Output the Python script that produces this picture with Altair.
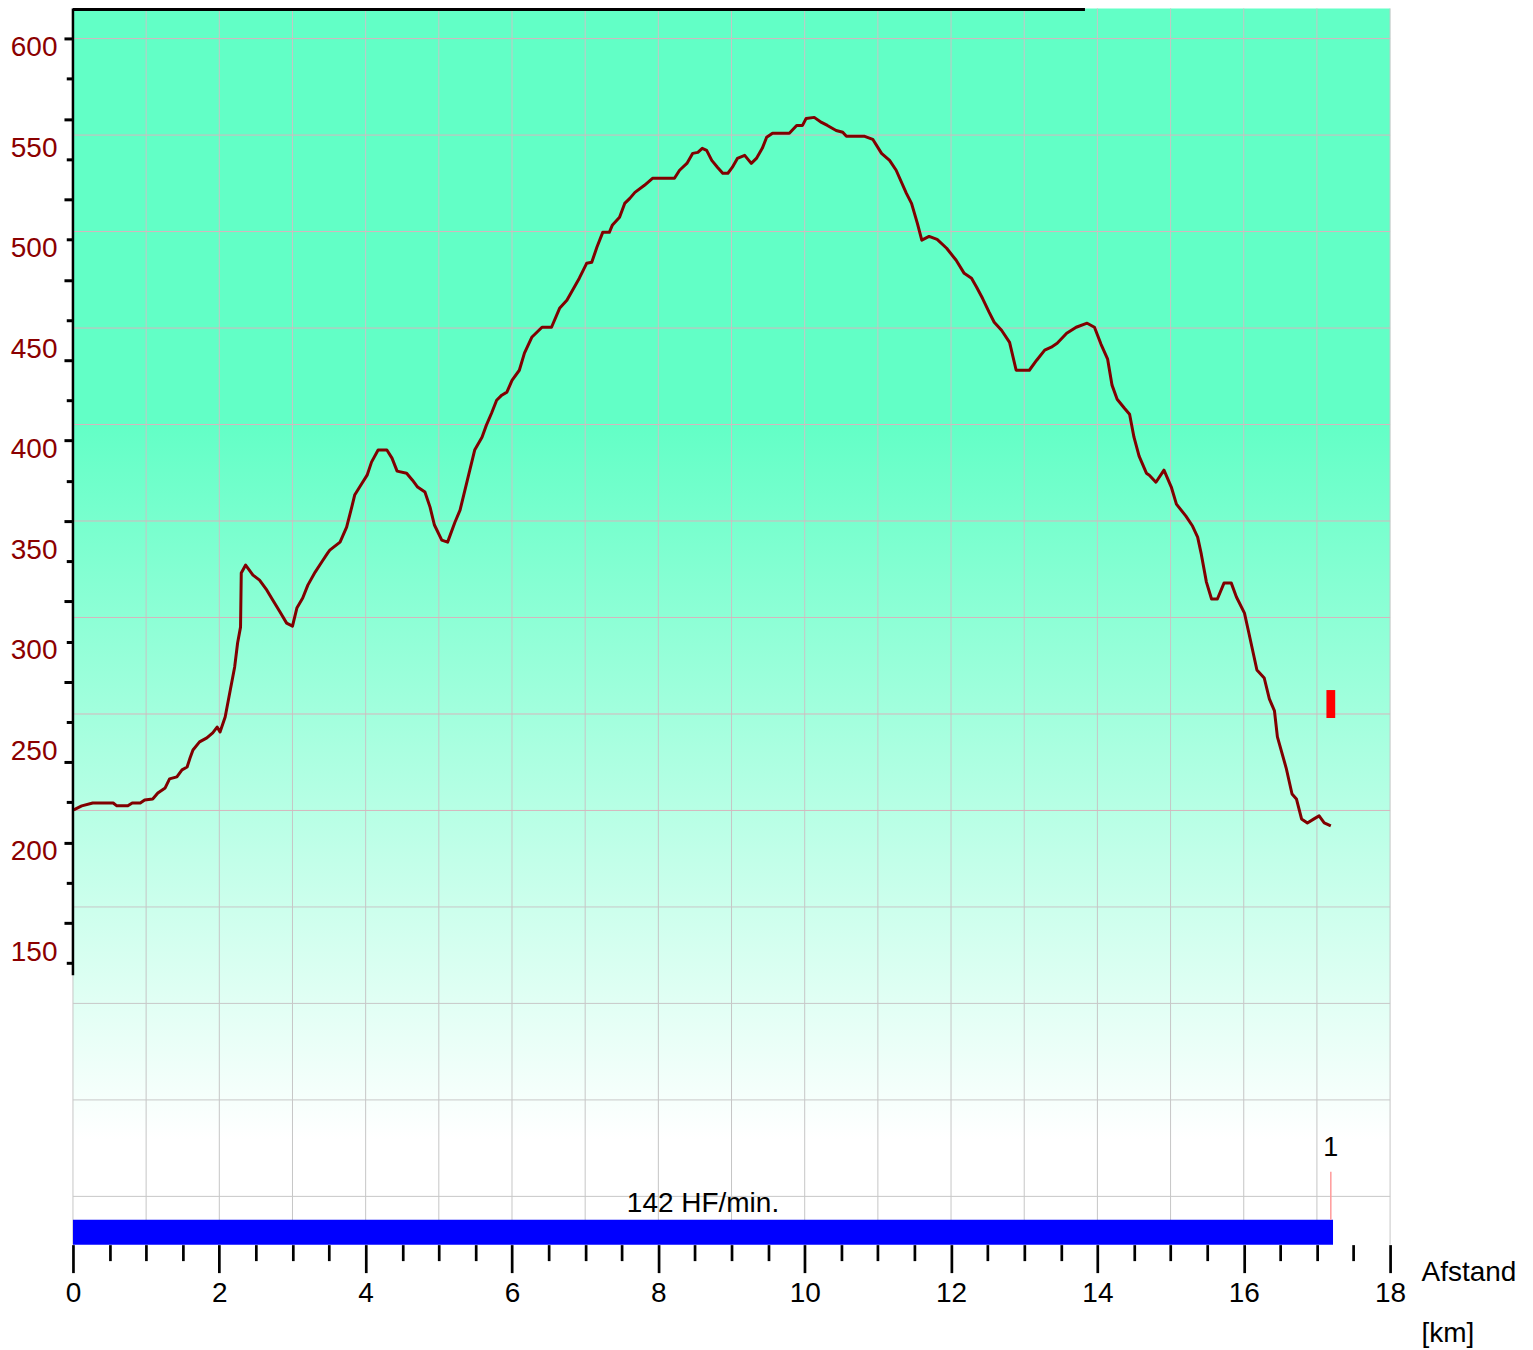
import altair as alt
import pandas as pd

# ---------------- data ----------------
dist_km = [0.01, 0.12, 0.27, 0.55, 0.60, 0.75, 0.81, 0.92, 0.98, 1.09, 1.16, 1.26, 1.32, 1.42, 1.49,
           1.56, 1.60, 1.64, 1.73, 1.83, 1.91, 1.97, 2.01, 2.08, 2.15, 2.21, 2.25, 2.29, 2.30, 2.36,
           2.46, 2.55, 2.65, 2.73, 2.83, 2.92, 3.00, 3.06, 3.14, 3.21, 3.31, 3.40, 3.48,
           3.51, 3.65, 3.74, 3.81, 3.85, 3.95, 4.02, 4.08, 4.17, 4.29, 4.36, 4.43, 4.56, 4.64, 4.71,
           4.81, 4.88, 4.94, 5.04, 5.12, 5.22, 5.29, 5.39, 5.49, 5.59, 5.65, 5.72, 5.79, 5.86, 5.93,
           6.00, 6.10, 6.17, 6.27, 6.41, 6.54, 6.65, 6.75,
           6.92, 7.02, 7.09, 7.16, 7.24, 7.33, 7.37, 7.47, 7.54, 7.61, 7.68, 7.81, 7.92, 8.22, 8.29,
           8.39, 8.47, 8.54, 8.60, 8.66, 8.73, 8.81, 8.88, 8.95, 9.01, 9.08, 9.18, 9.27, 9.34, 9.42,
           9.48, 9.56, 9.79, 9.89, 9.97, 10.02, 10.13, 10.23, 10.31, 10.43, 10.52, 10.57, 10.82,
           10.93, 11.05, 11.16, 11.25, 11.39, 11.46, 11.54, 11.60, 11.70, 11.81, 11.94, 12.07, 12.18,
           12.28, 12.35, 12.43, 12.52, 12.59, 12.69, 12.80, 12.89, 13.07, 13.17, 13.28, 13.37, 13.45,
           13.58, 13.71, 13.86, 13.96,
           14.05, 14.14, 14.20, 14.27, 14.37, 14.44, 14.50, 14.57, 14.67, 14.71, 14.80, 14.91, 15.01,
           15.08, 15.21, 15.30, 15.37, 15.42, 15.49, 15.56, 15.64, 15.73, 15.83, 15.90, 16.01, 16.07,
           16.18, 16.28, 16.35, 16.42, 16.46, 16.58, 16.66, 16.72, 16.79, 16.87, 16.96, 17.03, 17.10,
           17.19]
elev_m = [216.3, 218.3, 219.7, 219.7, 218.3, 218.3, 219.7, 219.7, 221.2, 221.7, 224.7, 227.2, 231.7,
          232.7, 236.2, 237.6, 242.1, 246.1, 250.1, 252.1, 254.6, 257.5, 255.0, 262.5, 275.9, 287.4,
          299.3, 307.2, 334.1, 338.1, 333.1, 330.6, 325.6, 320.7, 314.7, 309.2, 307.7, 316.7, 321.7,
          328.1, 334.6, 339.6, 344.0,
          345.5, 349.5, 357.0, 366.9, 372.9, 378.8, 382.8, 389.3, 395.3, 395.3, 391.3, 384.8, 383.8,
          380.3, 376.9, 374.4, 366.9, 358.0, 350.5, 349.5, 359.4, 365.4, 380.3, 395.3, 401.7, 407.7,
          413.6, 420.1, 422.6, 424.1, 430.0, 435.0, 443.5, 451.4, 456.4, 456.4, 465.8, 469.8,
          480.8, 488.2, 488.7, 496.2, 503.6, 503.6, 507.1, 511.1, 518.0, 520.5, 523.5, 527.0, 530.5,
          530.5, 534.5, 537.9, 542.9, 543.4, 545.4, 544.4, 539.4, 535.9, 533.0, 533.0, 535.9, 540.4,
          541.9, 537.9, 540.4, 545.4, 550.9, 552.9, 552.9, 556.8, 556.8, 560.3, 560.8, 558.3, 556.8,
          554.3, 553.4, 551.4, 551.4,
          549.9, 542.9, 539.4, 534.5, 523.0, 518.0, 508.1, 499.7, 501.6, 500.1, 495.7, 489.7, 483.2,
          480.8, 476.3, 470.8, 463.9, 458.9, 454.9, 448.9, 435.0, 435.0, 440.0, 445.0, 446.5, 448.4,
          453.4, 456.4, 458.4, 456.4,
          447.9, 440.5, 427.6, 420.6, 416.1, 413.1, 401.7, 392.3, 383.8, 382.8, 379.3, 385.3, 376.9,
          368.4, 362.4, 357.5, 352.0, 343.5, 329.6, 321.2, 321.2, 329.1, 329.1, 322.2, 314.2, 304.3,
          285.9, 281.9, 271.5, 265.5, 252.6, 237.1, 224.2, 221.7, 211.8, 209.8, 211.8, 213.3, 209.8,
          208.3]

x_domain = [0, 18]
y_domain = [0, 615]

x_label_ticks = [0, 2, 4, 6, 8, 10, 12, 14, 16, 18]
x_minor_ticks = [0.5, 1, 1.5, 2.5, 3, 3.5, 4.5, 5, 5.5, 6.5, 7, 7.5, 8.5, 9, 9.5, 10.5, 11, 11.5,
                 12.5, 13, 13.5, 14.5, 15, 15.5, 16.5, 17, 17.5]
y_long_ticks = [600, 560, 520, 480, 440, 400, 360, 320, 280, 240, 200, 160]
y_short_ticks = [580, 540, 500, 460, 420, 380, 340, 300, 260, 220, 180, 140]
y_labels = [600, 550, 500, 450, 400, 350, 300, 250, 200, 150]
y_axis_extent = [134, 615]

grid_km = list(range(0, 19))
grid_pink_m = [216, 264, 312, 360, 408, 456, 504, 552, 600]
grid_gray_m = [24, 72, 120, 168]

hr_text = ["142 HF/min."]
hr_bar_km = [0, 17.22]
hr_bar_m = [0, 12.4]
hr_text_pos = [8.61, 16.4]

lap_km = [17.19]
lap_line_m = [12.4, 36.3]
lap_label = ["1"]
lap_label_m = [44.3]

marker_km = [17.13, 17.25]
marker_m = [262.0, 275.9]

progress_km = [0, 13.83]

FONT = "Liberation Sans"

xs = alt.Scale(domain=x_domain, nice=False, zero=False)
ys = alt.Scale(domain=y_domain, nice=False, zero=False)

ax_x_major = alt.Axis(orient="bottom", values=x_label_ticks, tickSize=28, tickWidth=2.7,
                      tickColor="black", domain=False, grid=False, labelFontSize=28,
                      labelFont=FONT, labelColor="black", labelPadding=7, labelFlush=False,
                      labelOverlap=False, labelBound=False, format="d",
                      title=["Afstand", "[km]"], titleFont=FONT, titleFontSize=28,
                      titleFontWeight="normal", titleColor="black", titleAlign="left",
                      titleBaseline="alphabetic", titleX=1349, titleY=36, titleLineHeight=61)
ax_x_minor = alt.Axis(orient="bottom", values=x_minor_ticks, tickSize=16, tickWidth=2.7,
                      tickColor="black", domain=False, grid=False, labels=False, title=None)
ax_y_labels = alt.Axis(orient="left", values=y_labels, ticks=False, domain=False, grid=False,
                       labelFontSize=28, labelFont=FONT, labelColor="#8B0000", labelPadding=16,
                       labelBaseline="alphabetic", labelOffset=17, labelFlush=False,
                       labelOverlap=False, labelBound=False, title=None)
ax_y_long = alt.Axis(orient="left", values=y_long_ticks, tickSize=9, tickWidth=3,
                     tickColor="black", domain=False, grid=False, labels=False, title=None)
ax_y_short = alt.Axis(orient="left", values=y_short_ticks, tickSize=6.7, tickWidth=3,
                      tickColor="black", domain=False, grid=False, labels=False, title=None)

# background gradient
bg = alt.Chart(pd.DataFrame({"x0": [x_domain[0]], "x1": [x_domain[1]],
                             "y0": [y_domain[0]], "y1": [y_domain[1]]})).mark_rect(
    fill=alt.Gradient(gradient="linear", x1=0, x2=0, y1=0, y2=1,
                      stops=[alt.GradientStop(offset=0, color="#62FFC6"),
                             alt.GradientStop(offset=0.333, color="#62FFC6"),
                             alt.GradientStop(offset=0.915, color="#FFFFFF"),
                             alt.GradientStop(offset=1, color="#FFFFFF")])
).encode(
    x=alt.X("x0:Q", scale=xs, axis=ax_x_major), x2="x1:Q",
    y=alt.Y("y0:Q", scale=ys, axis=ax_y_labels), y2="y1:Q")

grid_v = alt.Chart(pd.DataFrame({"x": grid_km})).mark_rule(color="#c6c6c6", strokeWidth=1).encode(
    x=alt.X("x:Q", scale=xs, axis=ax_x_minor))
grid_hp = alt.Chart(pd.DataFrame({"y": grid_pink_m})).mark_rule(color="#d6b6be", strokeWidth=1).encode(
    y=alt.Y("y:Q", scale=ys, axis=ax_y_long))
grid_hg = alt.Chart(pd.DataFrame({"y": grid_gray_m})).mark_rule(color="#c8c8c8", strokeWidth=1).encode(
    y=alt.Y("y:Q", scale=ys, axis=None))

line = alt.Chart(pd.DataFrame({"km": dist_km, "m": elev_m})).mark_line(
    color="#800000", strokeWidth=3, strokeJoin="round").encode(
    x=alt.X("km:Q", scale=xs, axis=None),
    y=alt.Y("m:Q", scale=ys, axis=ax_y_short), order=alt.Order("km:Q"))

yline = alt.Chart(pd.DataFrame({"x": [0], "y0": [y_axis_extent[0]], "y1": [y_axis_extent[1]]})).mark_rule(
    color="black", strokeWidth=2.5).encode(
    x=alt.X("x:Q", scale=xs, axis=None), y=alt.Y("y0:Q", scale=ys, axis=None), y2="y1:Q")

hr_bar = alt.Chart(pd.DataFrame({"x0": [hr_bar_km[0]], "x1": [hr_bar_km[1]],
                                 "y0": [hr_bar_m[0]], "y1": [hr_bar_m[1]]})).mark_rect(
    color="#0000FF").encode(
    x=alt.X("x0:Q", scale=xs, axis=None), x2="x1:Q",
    y=alt.Y("y0:Q", scale=ys, axis=None), y2="y1:Q")

hr_lbl = alt.Chart(pd.DataFrame({"x": [hr_text_pos[0]], "y": [hr_text_pos[1]], "t": hr_text})).mark_text(
    font=FONT, fontSize=28, color="black", align="center", baseline="alphabetic").encode(
    x=alt.X("x:Q", scale=xs, axis=None), y=alt.Y("y:Q", scale=ys, axis=None), text="t:N")

lap_rule = alt.Chart(pd.DataFrame({"x": lap_km, "y0": [lap_line_m[0]], "y1": [lap_line_m[1]]})).mark_rule(
    color="#FF9A9A", strokeWidth=1.5).encode(
    x=alt.X("x:Q", scale=xs, axis=None), y=alt.Y("y0:Q", scale=ys, axis=None), y2="y1:Q")

lap_lbl = alt.Chart(pd.DataFrame({"x": lap_km, "y": lap_label_m, "t": lap_label})).mark_text(
    font=FONT, fontSize=27, color="black", align="center", baseline="alphabetic").encode(
    x=alt.X("x:Q", scale=xs, axis=None), y=alt.Y("y:Q", scale=ys, axis=None), text="t:N")

marker = alt.Chart(pd.DataFrame({"x0": [marker_km[0]], "x1": [marker_km[1]],
                                 "y0": [marker_m[0]], "y1": [marker_m[1]]})).mark_rect(
    color="#FF0000").encode(
    x=alt.X("x0:Q", scale=xs, axis=None), x2="x1:Q",
    y=alt.Y("y0:Q", scale=ys, axis=None), y2="y1:Q")

progress = alt.Chart(pd.DataFrame({"x0": [progress_km[0]], "x1": [progress_km[1]],
                                   "y": [y_domain[1]]})).mark_rule(
    color="black", strokeWidth=5).encode(
    x=alt.X("x0:Q", scale=xs, axis=None), x2="x1:Q", y=alt.Y("y:Q", scale=ys, axis=None))

chart = alt.layer(bg, grid_v, grid_hp, grid_hg, line, yline, hr_bar, hr_lbl, lap_rule, lap_lbl,
                  marker, progress).resolve_axis(x="independent", y="independent").properties(
    width=1318, height=1237,
    autosize=alt.AutoSizeParams(type="none"),
    padding={"left": 65, "top": 0, "right": 135, "bottom": 105},
    background="white",
).configure_view(stroke=None)

chart.save("out.html", embed_options={"renderer": "svg", "actions": False})
